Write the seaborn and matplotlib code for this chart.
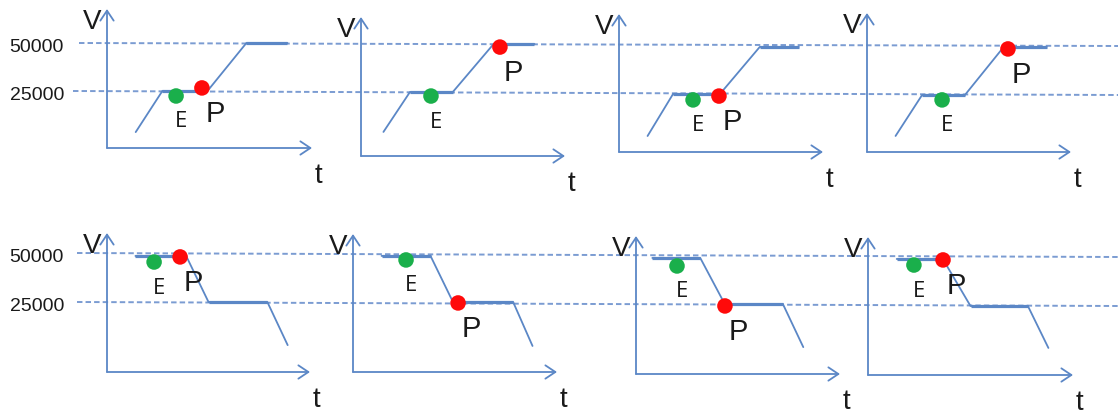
import numpy as np
import pandas as pd
import seaborn as sns
import matplotlib.pyplot as plt

# speed profiles V(t), one list per panel (t in 0..10 along the t axis)
curve_t = [
    [1.4, 2.7, 4.9, 6.8, 8.8],
    [1.1, 2.4, 4.5, 6.5, 8.5],
    [1.4, 2.65, 4.95, 6.9, 8.8],
    [1.4, 2.7, 4.8, 6.7, 8.8],
    [1.4, 3.9, 5.0, 7.9, 8.9],
    [1.4, 3.8, 4.9, 7.85, 8.8],
    [0.8, 3.15, 4.35, 7.2, 8.2],
    [1.4, 3.65, 5.0, 7.8, 8.8],
]
curve_v = [
    [3600, 25000, 25000, 50000, 50000],
    [4200, 25000, 25000, 50000, 50000],
    [2600, 24500, 24500, 49000, 49000],
    [4100, 25000, 25000, 49500, 49500],
    [48500, 48500, 25000, 25000, 3000],
    [49000, 49000, 25000, 25000, 2100],
    [48500, 48500, 25000, 25000, 3000],
    [49000, 49000, 25000, 25000, 3600],
]
# points E (green) and P (red)
e_t = [3.37, 3.43, 3.63, 3.68, 2.32, 2.60, 2.01, 2.24]
e_v = [22400, 22900, 21400, 22500, 45400, 46900, 44400, 45900]
p_t = [4.63, 6.81, 4.90, 6.91, 3.60, 5.15, 4.36, 3.66]
p_v = [26600, 48400, 23400, 48500, 48000, 24500, 24000, 48500]

levels = [50000, 25000]
level_labels = ["50000", "25000"]

# layout in pixels: y-axis x, arrow end x, arrow top y, x-axis y, y of 50000, y of 25000
panels = [
    (107, 312, 10, 149, 44, 92),
    (361, 565, 18, 157, 45, 93),
    (619, 823, 15, 153, 46, 94),
    (867, 1071, 14, 153, 47, 96),
    (107, 310, 234, 373, 254, 303),
    (353, 557, 235, 373, 255, 303),
    (636, 840, 237, 375, 256, 305),
    (868, 1073, 238, 376, 258, 307),
]
# dashed guide lines per row: (x start, y start, y end) for 50000 then 25000
rows = [
    [(79, 44, 47), (73, 92, 96)],
    [(77, 254, 258), (77, 303, 307)],
]

W, H = 1118, 414
BLUE = "#5b87c6"
DASH = "#7b9cd2"
GREEN = "#1aaf4b"
RED = "#ff0a0a"
INK = "#1a1a1a"

sns.set_theme(style="white")
plt.rcParams["font.family"] = ["Liberation Sans", "DejaVu Sans"]

fig = plt.figure(figsize=(W / 100, H / 100), dpi=100)
bg = fig.add_axes([0, 0, 1, 1])
bg.set_xlim(0, W)
bg.set_ylim(H, 0)
bg.axis("off")

for row in rows:
    for (xs, ys, ye), lab in zip(row, level_labels):
        bg.plot([xs, W], [ys, ye], color=DASH, lw=1.4, dashes=(2.8, 1.6))
        bg.text(64, ys + 4, lab, ha="right", va="center", fontsize=14, color=INK)

for i, (x0, x1, yt, yb, y50, y25) in enumerate(panels):
    ax = fig.add_axes([x0 / W, 1 - yb / H, (x1 - x0) / W, (yb - yt) / H])
    ax.axis("off")
    k = (levels[0] - levels[1]) / (y25 - y50)
    ax.set_xlim(0, 10)
    ax.set_ylim(levels[1] - (yb - y25) * k, levels[1] + (y25 - yt) * k)

    df = pd.DataFrame({"t": curve_t[i], "V": curve_v[i]})
    sns.lineplot(data=df, x="t", y="V", ax=ax, sort=False, estimator=None,
                 color=BLUE, lw=1.3)
    # plateaus drawn a bit heavier
    for j in range(len(df) - 1):
        if df.V[j] == df.V[j + 1]:
            ax.plot(df.t[j:j + 2], df.V[j:j + 2], color=BLUE, lw=2.3,
                    solid_capstyle="butt")

    arrow = dict(arrowstyle="->,head_length=0.6,head_width=0.4", color=BLUE,
                 lw=1.3, shrinkA=0, shrinkB=0)
    ax.annotate("", xy=(0, 1), xytext=(0, 0), xycoords="axes fraction", arrowprops=arrow)
    ax.annotate("", xy=(1, 0), xytext=(0, 0), xycoords="axes fraction", arrowprops=arrow)
    ax.annotate("V", xy=(0, 1), xycoords="axes fraction", xytext=(-15, -12),
                textcoords="offset pixels", ha="center", va="center",
                fontsize=20, color=INK)
    ax.annotate("t", xy=(1, 0), xycoords="axes fraction", xytext=(6, -27),
                textcoords="offset pixels", ha="center", va="center",
                fontsize=20, color=INK)

    pts = pd.DataFrame({"t": [e_t[i], p_t[i]], "V": [e_v[i], p_v[i]],
                        "kind": ["E", "P"]})
    sns.scatterplot(data=pts, x="t", y="V", hue="kind",
                    palette={"E": GREEN, "P": RED}, s=125, linewidth=0,
                    legend=False, ax=ax, clip_on=False, zorder=5)
    ax.annotate("E", xy=(e_t[i], e_v[i]), xytext=(5, -25), textcoords="offset pixels",
                ha="center", va="center", fontsize=16, color=INK,
                family=["Open Sans", "DejaVu Sans"])
    ax.annotate("P", xy=(p_t[i], p_v[i]), xytext=(13, -25), textcoords="offset pixels",
                ha="center", va="center", fontsize=21, color=INK)

fig.savefig("out.png", dpi=100)
